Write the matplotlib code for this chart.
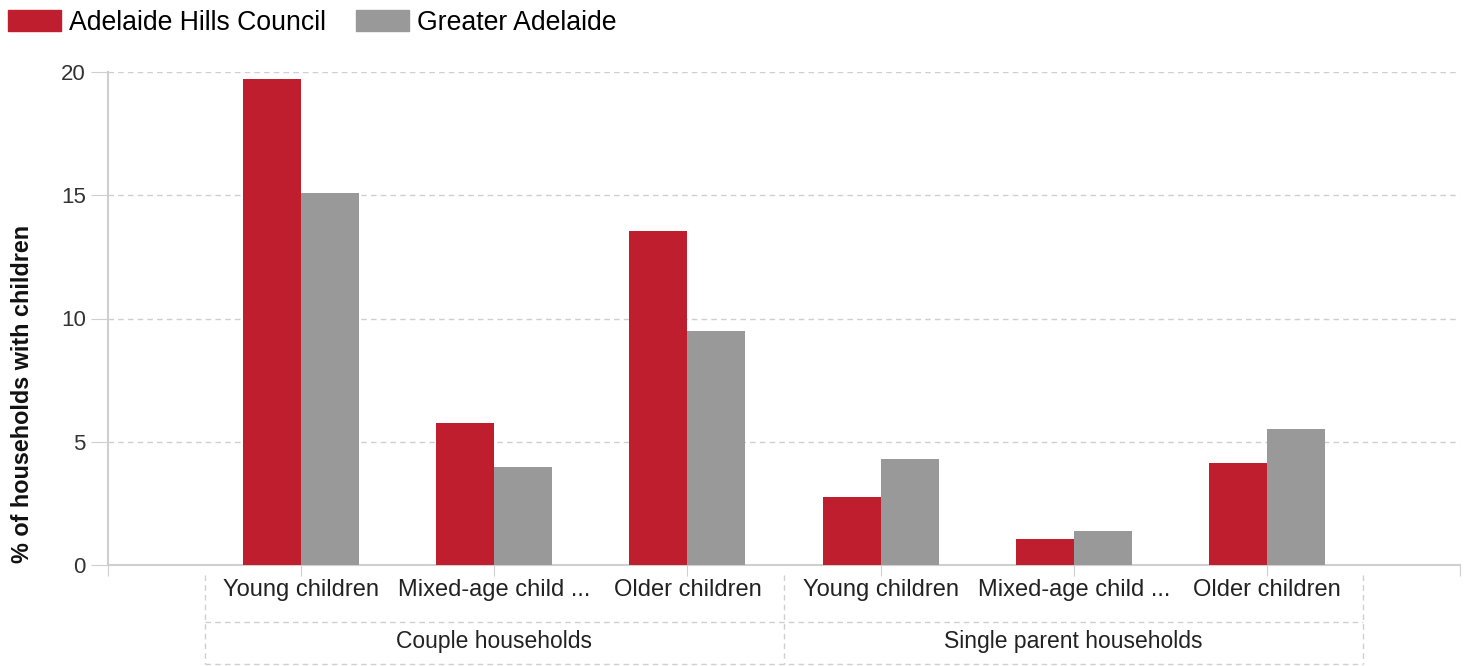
import numpy as np
import matplotlib
matplotlib.use('Agg')
from matplotlib import pyplot as plt
from matplotlib.patches import Patch

plt.rcParams['font.family'] = ['Liberation Sans', 'DejaVu Sans']

# datos
categorias = ['Young children', 'Mixed-age child ...', 'Older children',
              'Young children', 'Mixed-age child ...', 'Older children']
grupos = ['Couple households', 'Single parent households']
adelaide_hills = [19.7, 5.76, 13.55, 2.76, 1.05, 4.14]
greater_adelaide = [15.1, 3.97, 9.49, 4.3, 1.38, 5.52]

rojo = '#BE1E2D'
gris = '#999999'
linea = '#cfcfcf'

fig = plt.figure(figsize=(14.66, 6.66), dpi=100)
ax = fig.add_axes([108/1466, 1-565/666, (1460-108)/1466, (565-72)/666])

x = np.arange(len(categorias))
ancho = 0.3
ax.bar(x - ancho/2, adelaide_hills, ancho, color=rojo, zorder=3)
ax.bar(x + ancho/2, greater_adelaide, ancho, color=gris, zorder=3)

ax.set_xlim(-1, 6)
ax.set_ylim(0, 20)
ax.set_yticks([0, 5, 10, 15, 20])
ax.yaxis.grid(True, linestyle=(0, (4, 3)), color=linea, linewidth=1)
ax.set_axisbelow(True)

for s in ['top', 'right']:
    ax.spines[s].set_visible(False)
for s in ['left', 'bottom']:
    ax.spines[s].set_color(linea)
    ax.spines[s].set_linewidth(1.5)

ax.set_xticks(list(x) + [-1, 6])
ax.set_xticklabels(categorias + ['', ''])
ax.tick_params(axis='x', length=8, color=linea, labelsize=17, labelcolor='#222222', pad=2)
ax.tick_params(axis='y', length=12, color=linea, labelsize=16, labelcolor='#333333', pad=4)

# etiqueta del eje y, algo desplazada hacia abajo como en el original
fig.text(23/1466, 1-394/666, '% of households with children', rotation=90,
         ha='center', va='center', fontsize=16.8, fontweight='bold', color='#111111')

# cajas de las categorias de grupo
trans = ax.get_xaxis_transform()
y_top, y_mid, y_bot = -0.02, -0.1156, -0.2
estilo = dict(color=linea, linestyle=(0, (4, 3)), linewidth=1, transform=trans, clip_on=False)
for b in [-0.5, 2.5, 5.5]:
    ax.plot([b, b], [y_top, y_bot], **estilo)
for yy in [y_mid, y_bot]:
    ax.plot([-0.5, 5.5], [yy, yy], **estilo)
for i, g in enumerate(grupos):
    ax.text(1 + 3*i, -0.155, g, transform=trans, ha='center', va='center',
            fontsize=16.5, color='#222222')

handles = [Patch(color=rojo, label='Adelaide Hills Council'),
           Patch(color=gris, label='Greater Adelaide')]
fig.legend(handles=handles, loc='upper left', bbox_to_anchor=(8/1466, 1-10/666), ncol=2,
           frameon=False, fontsize=19.2, handlelength=2.0, handleheight=0.84,
           columnspacing=1.1, handletextpad=0.3, borderaxespad=0, borderpad=0)

fig.savefig('out.png', dpi=100)
